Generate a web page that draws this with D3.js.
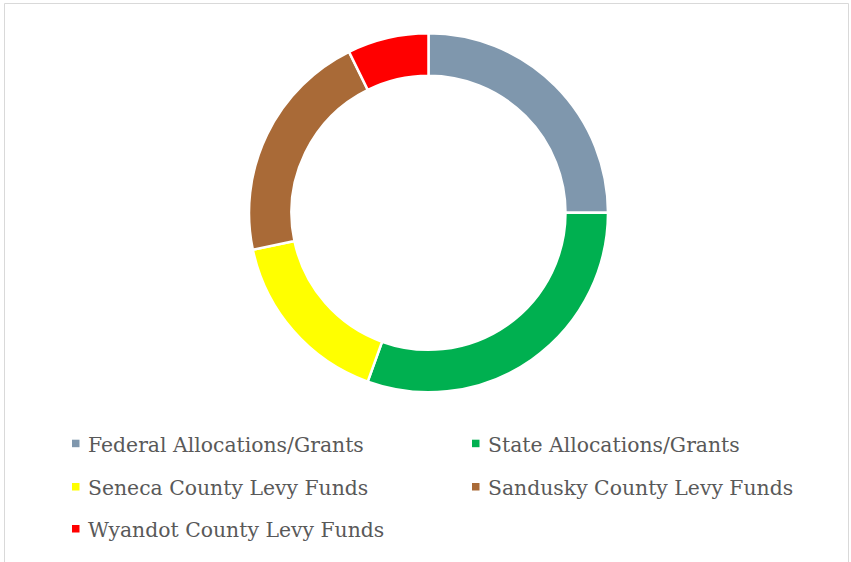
<!DOCTYPE html>
<html><head><meta charset="utf-8">
<script src="https://cdn.jsdelivr.net/npm/d3@7"></script>
<style>html,body{margin:0;padding:0;background:#fff;}svg{display:block;}</style>
</head><body>
<script>
const categories = ["Federal Allocations/Grants","State Allocations/Grants","Seneca County Levy Funds","Sandusky County Levy Funds","Wyandot County Levy Funds"];
const values = [25.0, 30.5, 16.2, 21.0, 7.3];
const colors = ["#7F97AD","#00B050","#FFFF00","#A96A37","#FF0000"];

const W = 851, H = 562;
const svg = d3.select("body").append("svg").attr("width", W).attr("height", H);

svg.append("path")
  .attr("d", `M4.5,${H+5} V3.5 H848.5 V${H+5}`)
  .attr("fill","none").attr("stroke","#D9D9D9").attr("stroke-width",1);

const cx = 428.5, cy = 212.8, rOut = 179.5, rIn = 137;
const pie = d3.pie().sort(null).value(d => d)(values);
const arc = d3.arc().innerRadius(rIn).outerRadius(rOut);
svg.append("g").attr("transform",`translate(${cx},${cy})`)
  .selectAll("path").data(pie).join("path")
  .attr("d", arc)
  .attr("fill", (d,i) => colors[i])
  .attr("stroke","#fff").attr("stroke-width",2.5).attr("stroke-linejoin","miter");

// pick font size so the first label spans the same width as in the reference
const probe = svg.append("text").attr("font-family","'DejaVu Serif', serif").attr("font-size",20).text(categories[0]);
const fs = Math.min(24, 20 * 276 / probe.node().getComputedTextLength());
probe.remove();

const cols = [72, 472], rows = [451.7, 495, 537];
const leg = svg.append("g");
categories.forEach((c,i) => {
  const x = cols[i % 2], y = rows[Math.floor(i/2)];
  leg.append("rect").attr("x", x).attr("y", y - 12).attr("width", 7.5).attr("height", 7.5).attr("fill", colors[i]);
  leg.append("text").attr("x", x + 16).attr("y", y)
    .attr("font-family","'DejaVu Serif', serif").attr("font-size", fs)
    .attr("fill","#595959").text(c);
});
</script>
</body></html>
